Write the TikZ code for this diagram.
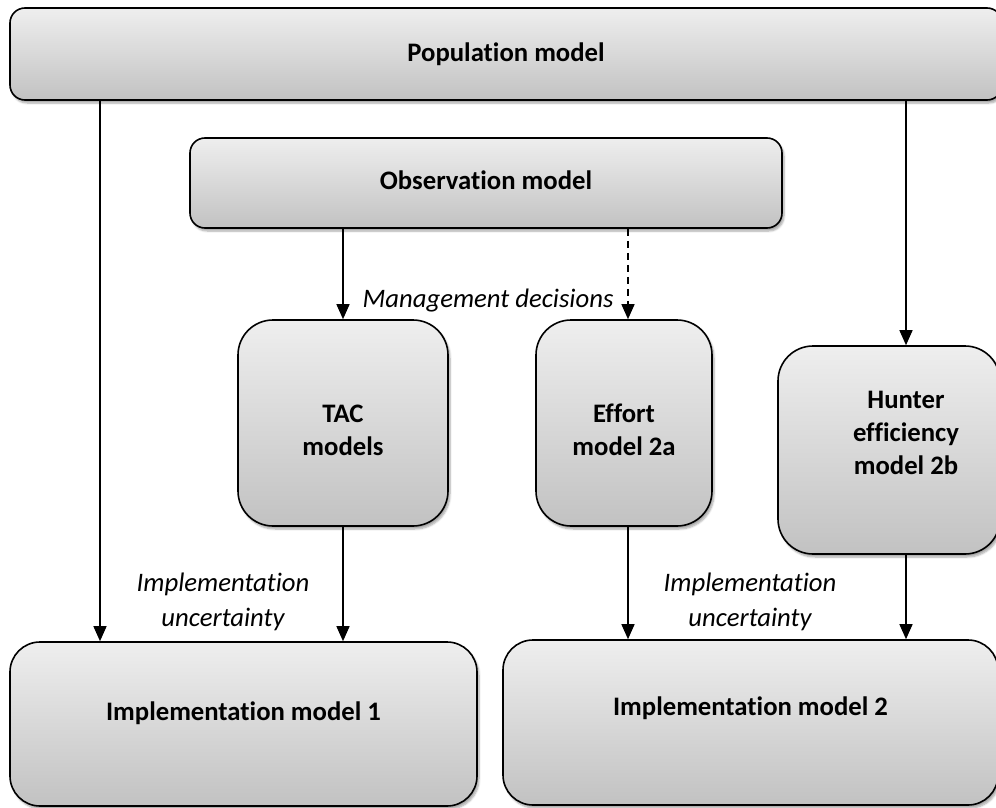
\documentclass[tikz,border=0pt]{standalone}
\usepackage{fontspec}
\setmainfont{Carlito}[RawFeature=-liga]
\usetikzlibrary{arrows.meta,shadows.blur}
\tikzset{
  box/.style={draw=black, line width=1.6pt, fill=gray!20, top color=gray!13, bottom color=gray!48,
    blur shadow={shadow xshift=2pt, shadow yshift=-3pt, shadow blur steps=6, shadow opacity=35},
    inner sep=0pt},
  boxtext/.style={font=\fontsize{26.7}{33}\selectfont\bfseries, align=center, inner sep=0pt},
  lbl/.style={font=\fontsize{26.7}{35}\selectfont\itshape, align=center, inner sep=0pt},
  arr/.style={line width=1.4pt, -{Triangle[width=13pt,length=15pt]}},
  dasharr/.style={arr, dash pattern=on 7pt off 5pt}
}
\begin{document}
\begin{tikzpicture}[x=1pt,y=-1pt]
\useasboundingbox (0,0) rectangle (996,808);
\clip (0,0) rectangle (996,808);
% boxes
\node[box, rounded corners=15pt, minimum width=992pt, minimum height=92pt] (pop) at (506,54) {};
\node[box, rounded corners=15pt, minimum width=592pt, minimum height=90pt] (obs) at (486,183) {};
\node[box, rounded corners=35pt, minimum width=210pt, minimum height=206pt] (tac) at (343,423) {};
\node[box, rounded corners=35pt, minimum width=176pt, minimum height=206pt] (eff) at (624,423) {};
\node[box, rounded corners=35pt, minimum width=222pt, minimum height=208pt] (hun) at (889,450) {};
\node[box, rounded corners=30pt, minimum width=467pt, minimum height=164pt] (imp1) at (243.5,724) {};
\node[box, rounded corners=30pt, minimum width=495pt, minimum height=165pt] (imp2) at (750.5,722.5) {};
% texts
\node[boxtext] (popt) at (506,54) {Population model};
\node[boxtext] (obst) at (486,180) {Observation model};
\node[boxtext] (tact) at (343,430) {TAC\\models};
\node[boxtext] (efft) at (624,430) {Effort\\model 2a};
\node[boxtext] (hunt) at (906,433) {Hunter\\efficiency\\model 2b};
\node[boxtext] (imp1t) at (243.5,713) {Implementation model 1};
\node[boxtext] (imp2t) at (750.5,708) {Implementation model 2};
% labels
\node[lbl] (mgmt) at (488,301) {Management decisions};
\node[lbl] (iu1) at (223,602) {Implementation\\uncertainty};
\node[lbl] (iu2) at (750,602) {Implementation\\uncertainty};
% connectors
\draw[arr] (100,0 |- pop.south) -- (100,0 |- imp1.north);
\draw[arr] (906,0 |- pop.south) -- (906,0 |- hun.north);
\draw[arr] (343,0 |- obs.south) -- (tac.north);
\draw[dasharr] (628,0 |- obs.south) -- (628,0 |- eff.north);
\draw[arr] (tac.south) -- (343,0 |- imp1.north);
\draw[arr] (628,0 |- eff.south) -- (628,0 |- imp2.north);
\draw[arr] (906,0 |- hun.south) -- (906,0 |- imp2.north);
\end{tikzpicture}
\end{document}
